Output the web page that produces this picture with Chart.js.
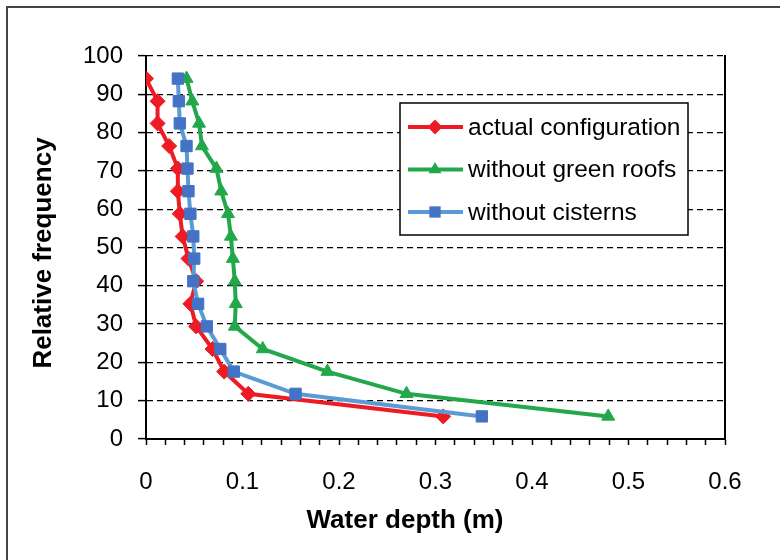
<!DOCTYPE html>
<html>
<head>
<meta charset="utf-8">
<script src="https://cdn.jsdelivr.net/npm/chart.js@4.4.0/dist/chart.umd.min.js"></script>
<style>
  html, body { margin:0; padding:0; background:#fff; overflow:hidden; }
</style>
</head>
<body>
<canvas id="chart" width="780" height="560"></canvas>
<script>
  // relative frequency (y) for every point
  var freq = [5.9, 11.8, 17.6, 23.5, 29.4, 35.3, 41.2, 47.1, 52.9, 58.8, 64.7, 70.6, 76.5, 82.4, 88.2, 94.1];
  // water depth (x) per series
  var actualDepth    = [0.308, 0.106, 0.081, 0.069, 0.052, 0.046, 0.052, 0.044, 0.038, 0.035, 0.033, 0.033, 0.024, 0.012, 0.012, 0.000];
  var noRoofDepth    = [0.479, 0.270, 0.188, 0.121, 0.092, 0.093, 0.092, 0.090, 0.088, 0.085, 0.078, 0.073, 0.058, 0.055, 0.048, 0.042];
  var noCisternDepth = [0.348, 0.155, 0.091, 0.077, 0.063, 0.054, 0.049, 0.050, 0.049, 0.046, 0.044, 0.043, 0.042, 0.035, 0.034, 0.033];
  var seriesNames = ['actual configuration', 'without green roofs', 'without cisterns'];
  var xTickLabels = ['0', '0.1', '0.2', '0.3', '0.4', '0.5', '0.6'];
  var yTickLabels = ['0', '10', '20', '30', '40', '50', '60', '70', '80', '90', '100'];
  var xTitle = 'Water depth (m)';
  var yTitle = 'Relative frequency';

  function pts(xs){
    return xs.map(function(x, i){ return {x: x, y: freq[i]}; });
  }

  Chart.defaults.font.family = '"Liberation Sans", Arial, sans-serif';
  Chart.defaults.color = '#000';

  var styles = [
    {line:'#ED1C24', fill:'#ED1C24', shape:'rectRot', r:7.5, order:3},
    {line:'#22A84A', fill:'#22A84A', shape:'triangle', r:7.5, order:2},
    {line:'#5B9BD5', fill:'#4472C4', shape:'rect', r:8, order:1}
  ];
  var series = [actualDepth, noRoofDepth, noCisternDepth];

  var datasets = series.map(function(s, i){
    var st = styles[i];
    return {
      label: seriesNames[i],
      data: pts(s),
      showLine: true,
      borderColor: st.line,
      borderWidth: 4,
      pointStyle: st.shape,
      pointRadius: st.r,
      pointHoverRadius: st.r,
      pointBackgroundColor: st.fill,
      pointBorderColor: st.fill,
      pointBorderWidth: 1,
      tension: 0,
      order: st.order
    };
  });

  function marker(ctx, shape, x, y, r){
    ctx.beginPath();
    if(shape == 'rectRot'){
      ctx.moveTo(x, y - r); ctx.lineTo(x + r, y); ctx.lineTo(x, y + r); ctx.lineTo(x - r, y);
    } else if(shape == 'triangle'){
      ctx.moveTo(x, y - r); ctx.lineTo(x + r * 0.866, y + r * 0.5); ctx.lineTo(x - r * 0.866, y + r * 0.5);
    } else {
      var h = r * Math.SQRT1_2;
      ctx.rect(x - h, y - h, 2 * h, 2 * h);
    }
    ctx.closePath();
    ctx.fill();
  }

  var framePlugin = {
    id: 'frame',
    beforeDraw: function(chart){
      var ctx = chart.ctx;
      ctx.save();
      ctx.strokeStyle = '#444';
      ctx.lineWidth = 2;
      ctx.strokeRect(7, 7, 1000, 1000);
      ctx.restore();
    },
    afterDraw: function(chart){
      var ctx = chart.ctx, a = chart.chartArea;
      ctx.save();
      // right edge of plot area
      ctx.strokeStyle = '#000';
      ctx.lineWidth = 2;
      ctx.beginPath();
      ctx.moveTo(a.right, a.top - 1);
      ctx.lineTo(a.right, a.bottom);
      ctx.stroke();

      // axis titles, placed like the original (not exactly centred on the plot)
      ctx.fillStyle = '#000';
      ctx.font = 'bold 26px "Liberation Sans", Arial, sans-serif';
      ctx.textAlign = 'center';
      ctx.textBaseline = 'middle';
      ctx.fillText(xTitle, a.left + 259, a.bottom + 82);
      ctx.save();
      ctx.translate(44, a.top + 197);
      ctx.rotate(-Math.PI / 2);
      ctx.fillText(yTitle, 0, 0);
      ctx.restore();

      // legend box
      var bx = a.left + 254, by = a.top + 47, bw = 288, bh = 132;
      ctx.fillStyle = '#fff';
      ctx.fillRect(bx, by, bw, bh);
      ctx.lineWidth = 1.5;
      ctx.strokeRect(bx, by, bw, bh);
      ctx.font = '24.5px "Liberation Sans", Arial, sans-serif';
      ctx.textAlign = 'left';
      ctx.textBaseline = 'middle';
      datasets.forEach(function(d, i){
        var st = styles[i];
        var y = by + 24 + i * 42.5;
        ctx.strokeStyle = st.line;
        ctx.lineWidth = 4;
        ctx.beginPath();
        ctx.moveTo(bx + 8, y);
        ctx.lineTo(bx + 63, y);
        ctx.stroke();
        ctx.fillStyle = st.fill;
        marker(ctx, st.shape, bx + 35, y, st.r);
        ctx.fillStyle = '#000';
        ctx.fillText(d.label, bx + 68, y + 1);
      });
      ctx.restore();
    }
  };

  var ctx = document.getElementById('chart').getContext('2d');
  var chart = new Chart(ctx, {
    type: 'scatter',
    data: { datasets: datasets },
    options: {
      responsive: false,
      animation: false,
      devicePixelRatio: 1,
      layout: { padding: { top: 56, right: 55, left: 0, bottom: 0 } },
      plugins: { legend: { display: false }, tooltip: { enabled: false } },
      scales: {
        x: {
          type: 'linear',
          min: 0, max: 0.6,
          afterFit: function(s){ s.height = 121; },
          ticks: {
            stepSize: 0.02,
            autoSkip: false,
            maxRotation: 0,
            padding: 23,
            font: { size: 24 },
            callback: function(v){
              var k = Math.round(v * 50);
              return k % 5 === 0 ? xTickLabels[k / 5] : '';
            }
          },
          grid: { drawOnChartArea: false, drawTicks: true, tickLength: 6, tickColor: '#000', tickWidth: 1.5 },
          border: { color: '#000', width: 2 }
        },
        y: {
          min: 0, max: 100,
          afterFit: function(s){ s.width = 146; },
          ticks: {
            stepSize: 10,
            padding: 15,
            font: { size: 24 },
            callback: function(v){ return yTickLabels[Math.round(v / 10)]; }
          },
          grid: {
            color: function(c){ return c.tick && c.tick.value === 0 ? 'rgba(0,0,0,0)' : '#000'; },
            lineWidth: 1.2,
            tickLength: 8,
            tickColor: '#000',
            tickWidth: 1.5,
            tickBorderDash: []
          },
          border: { color: '#000', width: 2, dash: [6, 4] }
        }
      }
    },
    plugins: [framePlugin]
  });
</script>
</body>
</html>
